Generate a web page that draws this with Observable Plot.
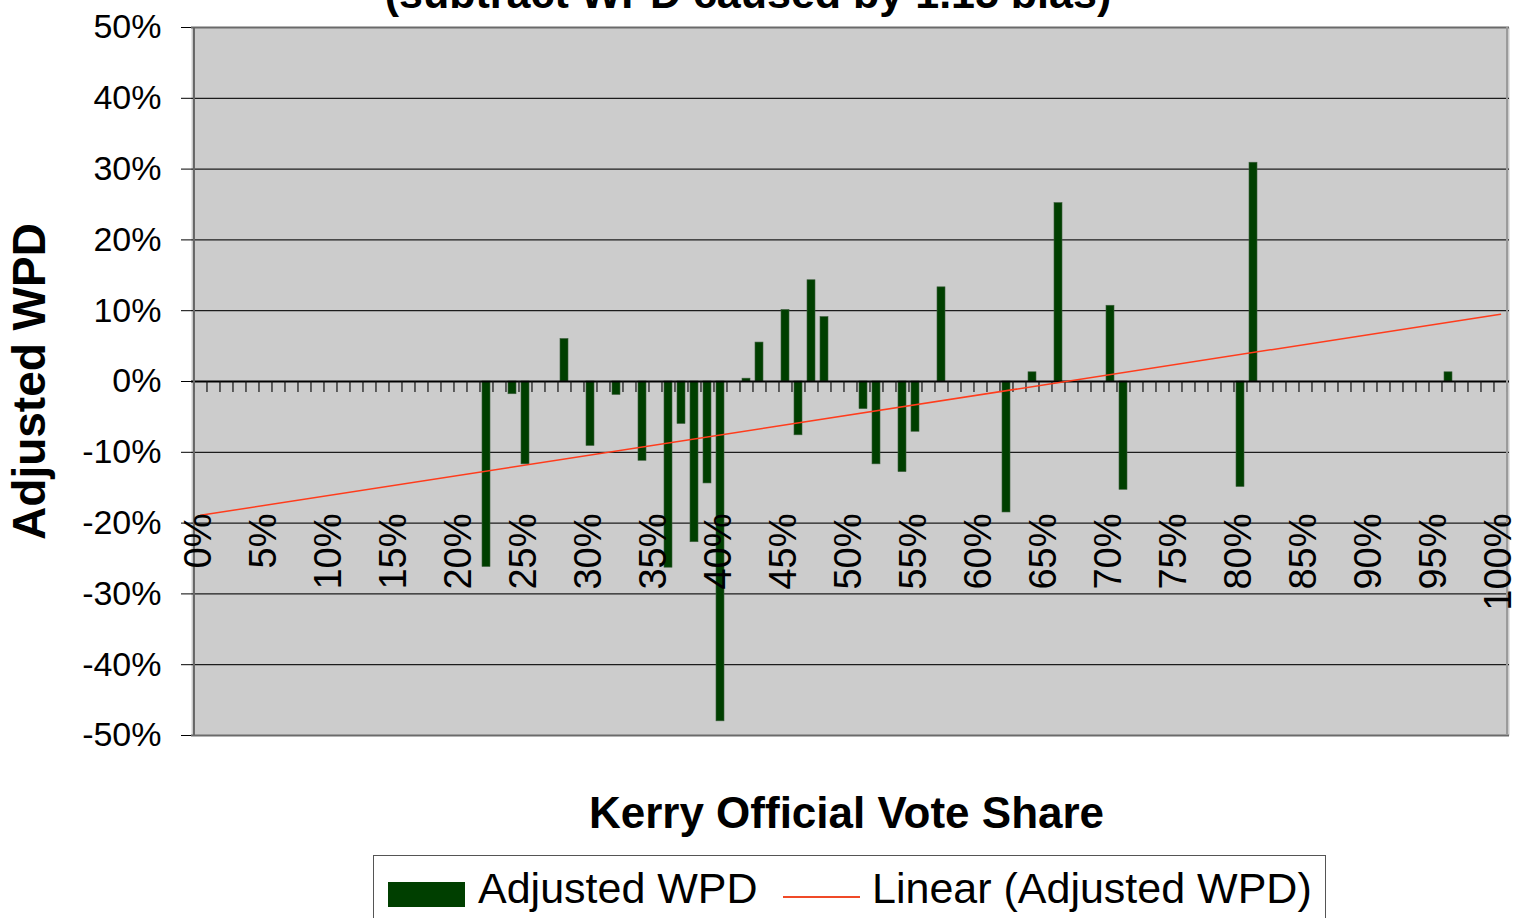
<!DOCTYPE html>
<html><head><meta charset="utf-8">
<script src="https://cdn.jsdelivr.net/npm/d3@7"></script>
<script src="https://cdn.jsdelivr.net/npm/@observablehq/plot@0.6"></script>
<style>
html,body{margin:0;padding:0;background:#fff;}
#wrap{position:relative;width:1517px;height:918px;overflow:hidden;font-family:"Liberation Sans",Arial,sans-serif;color:#000;}
#chart{position:absolute;left:0;top:0;}
.title{position:absolute;left:0;width:1496px;top:-28px;text-align:center;font-weight:bold;font-size:43px;line-height:43px;white-space:nowrap;}
.xtitle{position:absolute;left:0;width:1693px;top:791px;text-align:center;font-weight:bold;font-size:44px;line-height:44px;white-space:nowrap;}
.legend{position:absolute;left:373px;top:855px;width:951px;height:120px;border:1px solid #555;background:#fff;}
.sw{position:absolute;left:14px;top:26px;width:77px;height:25px;background:#003f00;}
.ln{position:absolute;left:409px;top:40px;width:77px;height:0;border-top:2px solid #f04a28;}
.lt{position:absolute;top:11px;font-size:43px;line-height:43px;white-space:nowrap;}
</style>
</head><body>
<div id="wrap">
  <div id="chart"></div>
  <div class="title" id="title"></div>
  <div class="xtitle" id="xtitle"></div>
  <div class="legend">
    <div class="sw"></div><div class="lt" id="l1" style="left:104px"></div>
    <div class="ln"></div><div class="lt" id="l2" style="left:498px"></div>
  </div>
</div>
<script>
// ---- data ----
const titleText = "(subtract WPD caused by 1.15 bias)";
const xTitle = "Kerry Official Vote Share";
const yTitle = "Adjusted WPD";
const seriesName = "Adjusted WPD";
const trendName = "Linear (Adjusted WPD)";

// category axis: Kerry official vote share, 0% .. 100% in 1% steps
const categories = d3.range(0, 101);
const tickCats = [0, 5, 10, 15, 20, 25, 30, 35, 40, 45, 50, 55, 60, 65, 70, 75, 80, 85, 90, 95, 100];
const tickLabels = ["0%", "5%", "10%", "15%", "20%", "25%", "30%", "35%", "40%", "45%", "50%", "55%", "60%", "65%", "70%", "75%", "80%", "85%", "90%", "95%", "100%"];
const yTicks = [-50, -40, -30, -20, -10, 0, 10, 20, 30, 40, 50];

// Adjusted WPD (percent) per vote-share category
const barCats   = [22, 24, 25, 28, 30, 32, 34, 36, 37, 38, 39, 40, 42, 43, 45, 46, 47, 48, 51, 52, 54, 55, 57, 62, 64, 66, 70, 71, 80, 81, 96];
const barValues = [-26.2, -1.8, -11.7, 6.0, -9.1, -1.9, -11.2, -26.3, -6.0, -22.7, -14.4, -48.0, 0.4, 5.5, 10.1, -7.6, 14.3, 9.1, -3.9, -11.7, -12.8, -7.1, 13.3, -18.5, 1.3, 25.2, 10.7, -15.3, -14.9, 30.9, 1.3];

// linear trendline endpoints (percent)
const trendCats = [0, 100];
const trendValues = [-18.9, 9.5];

// ---- build ----
const bars = barCats.map((c, i) => ({cat: c, value: barValues[i]}));
const trend = trendCats.map((c, i) => ({cat: c, value: trendValues[i]}));

const W = 1517, H = 918, mL = 191, mR = 8, mT = 27, mB = 183;
const step = (W - mL - mR) / categories.length;

const chart = Plot.plot({
  width: W, height: H,
  marginTop: mT, marginBottom: mB, marginLeft: mL, marginRight: mR,
  style: {fontFamily: '"Liberation Sans", Arial, sans-serif', fontSize: "34px", color: "#000", background: "transparent", overflow: "visible"},
  x: {type: "band", domain: categories, paddingInner: 0.387, paddingOuter: 0.1935, axis: null},
  y: {domain: [-50, 50], label: null},
  marks: [
    Plot.frame({fill: "#cccccc", stroke: null}),
    Plot.ruleY(yTicks.filter(v => v !== 0 && Math.abs(v) !== 50), {stroke: "#1c1c1c", strokeWidth: 1.3}),
    Plot.ruleY([50, -50], {stroke: "#6a6a6a", strokeWidth: 2}),
    Plot.barY(bars, {x: "cat", y: "value", fill: "#003f00", stroke: "#3d5e3d", strokeWidth: 0.6}),
    Plot.ruleY([0], {stroke: "#000", strokeWidth: 2}),
    Plot.ruleX(categories, {x: d => d, y1: 0, y2: 0, insetBottom: -11, dx: -step / 2, stroke: "#111", strokeWidth: 1.2}),
    Plot.ruleX([categories[categories.length - 1]], {x: d => d, y1: 0, y2: 0, insetBottom: -11, dx: step / 2, stroke: "#111", strokeWidth: 1.2}),
    Plot.ruleX([categories[0]], {x: d => d, dx: -step / 2, stroke: "#666", strokeWidth: 2}),
    Plot.ruleX([categories[categories.length - 1]], {x: d => d, dx: step / 2, stroke: "#9a9a9a", strokeWidth: 2}),
    Plot.line(trend, {x: "cat", y: "value", stroke: "#ff3c1c", strokeWidth: 1.5}),
    Plot.axisY(yTicks, {tickFormat: d => `${d}%`, tickSize: 10, tickPadding: 20, fontSize: 34, label: null, stroke: "#000"}),
    Plot.text(tickLabels, {x: (d, i) => tickCats[i], text: d => d, frameAnchor: "bottom", dy: -222, dx: -2, rotate: -90, textAnchor: "end", lineAnchor: "middle", fontSize: 38, fill: "#000"}),
    Plot.text([yTitle], {frameAnchor: "left", dx: -161, rotate: -90, text: d => d, textAnchor: "middle", lineAnchor: "middle", fontSize: 46, fontWeight: "bold", fill: "#000"})
  ]
});
document.getElementById("chart").appendChild(chart);
document.getElementById("title").textContent = titleText;
document.getElementById("xtitle").textContent = xTitle;
document.getElementById("l1").textContent = seriesName;
document.getElementById("l2").textContent = trendName;
</script>
</body></html>
